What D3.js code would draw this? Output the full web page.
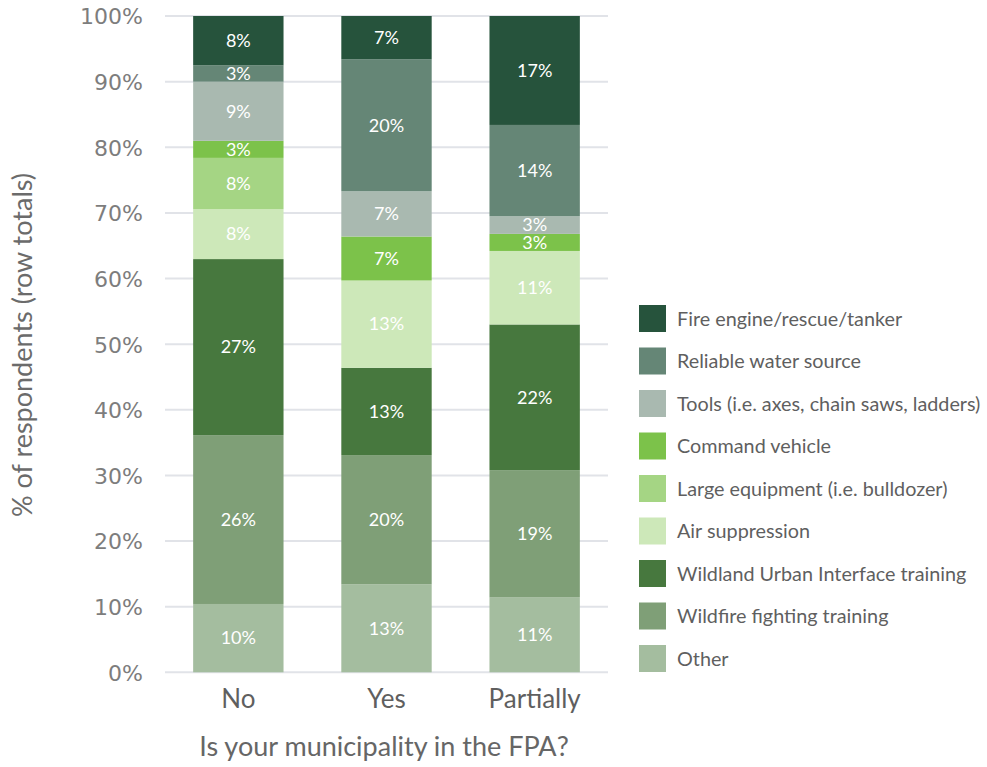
<!DOCTYPE html>
<html>
<head>
<meta charset="utf-8">
<script src="https://cdn.jsdelivr.net/npm/d3@7"></script>
<style>
  html, body { margin: 0; padding: 0; background: #fff; }
  svg { display: block; }
</style>
</head>
<body>
<svg id="chart" width="987" height="767"></svg>
<script>
// Survey responses grouped by whether the municipality is in the FPA
const categories = ["No", "Yes", "Partially"];

// Stack order, bottom to top
const seriesNames = [
  "Other",
  "Wildfire fighting training",
  "Wildland Urban Interface training",
  "Air suppression",
  "Large equipment (i.e. bulldozer)",
  "Command vehicle",
  "Tools (i.e. axes, chain saws, ladders)",
  "Reliable water source",
  "Fire engine/rescue/tanker"
];

// Percent of respondents per category (No, Yes, Partially)
const other          = [10.4, 13.4, 11.4];
const wildfireTrain  = [25.7, 19.7, 19.4];
const wuiTrain       = [26.8, 13.3, 22.2];
const airSuppression = [7.6, 13.3, 11.2];
const largeEquipment = [7.8, 0, 0];
const commandVehicle = [2.6, 6.7, 2.6];
const tools          = [9.0, 6.9, 2.7];
const waterSource    = [2.5, 20.1, 13.9];
const fireEngine     = [7.5, 6.6, 16.6];

const yTicks = [0, 0.1, 0.2, 0.3, 0.4, 0.5, 0.6, 0.7, 0.8, 0.9, 1.0];

const seriesValues = [other, wildfireTrain, wuiTrain, airSuppression, largeEquipment,
                      commandVehicle, tools, waterSource, fireEngine];

const colors = ["#a4bd9f", "#7f9f77", "#47783e", "#cde8b9", "#a5d584",
                "#7cc24a", "#a9b9b0", "#658676", "#26533c"];

// Build table rows for d3.stack
const rows = categories.map((c, i) => {
  const r = { category: c };
  seriesNames.forEach((s, k) => { r[s] = seriesValues[k][i]; });
  return r;
});

const stack = d3.stack().keys(seriesNames).offset(d3.stackOffsetExpand);
const stacked = stack(rows);

const svg = d3.select("#chart");

const plot = { left: 165, right: 608, top: 16, bottom: 672.3 };

const x = d3.scaleBand()
  .domain(categories)
  .range([plot.left, plot.right])
  .paddingInner(0.39)
  .paddingOuter(0.19);

const y = d3.scaleLinear()
  .domain([0, 1])
  .range([plot.bottom, plot.top]);

const color = d3.scaleOrdinal().domain(seriesNames).range(colors);

// Horizontal gridlines
svg.append("g")
  .selectAll("line")
  .data(yTicks)
  .join("line")
  .attr("x1", plot.left)
  .attr("x2", plot.right)
  .attr("y1", d => y(d))
  .attr("y2", d => y(d))
  .attr("stroke", "#e1e3e8")
  .attr("stroke-width", 2);

// Y axis labels
const yAxis = d3.axisLeft(y)
  .tickValues(yTicks)
  .tickFormat(d3.format(".0%"))
  .tickSize(0)
  .tickPadding(0);

svg.append("g")
  .attr("transform", `translate(${plot.left - 22},0)`)
  .call(yAxis)
  .call(g => g.select(".domain").remove())
  .call(g => g.selectAll("text")
    .attr("fill", "#7d7d7d")
    .attr("font-family", "'DejaVu Sans', sans-serif")
    .attr("font-size", 22)
    .attr("dy", "0.36em"));

// Stacked bars
const layer = svg.append("g")
  .selectAll("g")
  .data(stacked)
  .join("g")
  .attr("fill", d => color(d.key));

layer.selectAll("rect")
  .data(d => d.map(p => Object.assign(p, { key: d.key })))
  .join("rect")
  .attr("x", d => x(d.data.category))
  .attr("width", x.bandwidth())
  .attr("y", d => y(d[1]))
  .attr("height", d => Math.max(0, y(d[0]) - y(d[1])));

// Value labels centred in each segment
layer.selectAll("text")
  .data(d => d.filter(p => p.data[d.key] > 0))
  .join("text")
  .attr("x", d => x(d.data.category) + x.bandwidth() / 2)
  .attr("y", d => (y(d[0]) + y(d[1])) / 2)
  .attr("dy", "0.35em")
  .attr("text-anchor", "middle")
  .attr("fill", "#ffffff")
  .attr("font-family", "Lato, 'Open Sans', sans-serif")
  .attr("font-size", 18)
  .text(d => Math.round(d.data[d.key]) + "%");

// X axis category labels
const xAxis = d3.axisBottom(x).tickSize(0).tickPadding(0);
svg.append("g")
  .attr("transform", `translate(0,${plot.bottom + 26})`)
  .call(xAxis)
  .call(g => g.select(".domain").remove())
  .call(g => g.selectAll("text")
    .attr("fill", "#5f5f5f")
    .attr("font-family", "Lato, 'Open Sans', sans-serif")
    .attr("font-size", 26)
    .attr("dy", "0.36em"));

// Axis titles
svg.append("text")
  .attr("x", 384)
  .attr("y", 746)
  .attr("dy", "0.36em")
  .attr("text-anchor", "middle")
  .attr("fill", "#666666")
  .attr("font-family", "Lato, 'Open Sans', sans-serif")
  .attr("font-size", 27)
  .text("Is your municipality in the FPA?");

svg.append("text")
  .attr("transform", "translate(22,345) rotate(-90)")
  .attr("dy", "0.36em")
  .attr("text-anchor", "middle")
  .attr("fill", "#6b6b6b")
  .attr("font-family", "Lato, 'Open Sans', sans-serif")
  .attr("font-size", 27)
  .text("% of respondents (row totals)");

// Legend, top of stack first
const legendItems = seriesNames.slice().reverse();
const legend = svg.append("g")
  .attr("transform", "translate(639,305)")
  .selectAll("g")
  .data(legendItems)
  .join("g")
  .attr("transform", (d, i) => `translate(0,${i * 42.5})`);

legend.append("rect")
  .attr("width", 27)
  .attr("height", 27)
  .attr("fill", d => color(d));

legend.append("text")
  .attr("x", 38)
  .attr("y", 14)
  .attr("dy", "0.35em")
  .attr("fill", "#5f5f5f")
  .attr("font-family", "Lato, 'Open Sans', sans-serif")
  .attr("font-size", 19.8)
  .text(d => d);
</script>
</body>
</html>
